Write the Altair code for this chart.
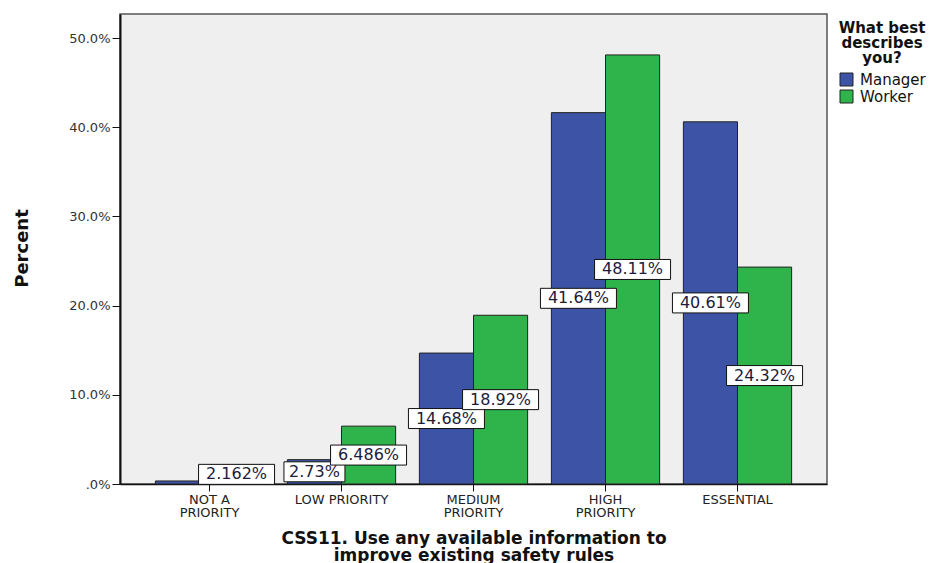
import altair as alt
import pandas as pd

categories = ["NOT A PRIORITY", "LOW PRIORITY", "MEDIUM PRIORITY", "HIGH PRIORITY", "ESSENTIAL"]
groups = ["Manager", "Worker"]
manager_pct = [0.34, 2.73, 14.68, 41.64, 40.61]
worker_pct = [2.162, 6.486, 18.92, 48.11, 24.32]
manager_labels = ["", "2.73%", "14.68%", "41.64%", "40.61%"]
worker_labels = ["2.162%", "6.486%", "18.92%", "48.11%", "24.32%"]
colors = ["#3d54a6", "#2eb44a"]
y_ticks = [0, 10, 20, 30, 40, 50]

rows = []
for i, c in enumerate(categories):
    rows.append(dict(cat=c, grp="Manager", pct=manager_pct[i], label=manager_labels[i]))
    rows.append(dict(cat=c, grp="Worker", pct=worker_pct[i], label=worker_labels[i]))
df = pd.DataFrame(rows)
df["nchar"] = df["label"].str.len()

FONT = "DejaVu Sans"
yscale = alt.Scale(domain=[0, 52.7], nice=False, zero=True)
xscale = alt.Scale(paddingInner=0.18, paddingOuter=0.268)
xo = alt.XOffset("grp:N", sort=groups, scale=alt.Scale(paddingInner=0, paddingOuter=0))

x_axis = alt.Axis(
    title=["CSS11. Use any available information to", "improve existing safety rules"],
    labelAngle=0,
    labelExpr="datum.value == 'LOW PRIORITY' ? datum.value : split(replace(datum.value, ' PRIORITY', '|PRIORITY'), '|')",
    labelFont=FONT, labelFontSize=13, labelLineHeight=13, labelColor="#222",
    labelPadding=2, tickSize=7, tickColor="#111", domainColor="#111", domainWidth=1.5,
    titleFont=FONT, titleFontSize=17, titleFontWeight="bold", titleLineHeight=17,
    titleColor="#111", titleBaseline="alphabetic", titleY=59,
)
y_axis = alt.Axis(
    title="Percent", values=y_ticks,
    labelExpr="datum.value == 0 ? '.0%' : format(datum.value, '.1f') + '%'",
    labelFont=FONT, labelFontSize=13, labelColor="#333", labelPadding=2,
    tickSize=8, tickColor="#111", domainColor="#111", domainWidth=2, grid=False,
    titleFont=FONT, titleFontSize=18, titleFontWeight="bold", titleColor="#111",
    titleX=-98, titleY=234, titleAngle=270, titleBaseline="middle", titleAlign="center",
)

x_enc = alt.X("cat:N", sort=categories, scale=xscale, axis=x_axis)
y_enc = alt.Y("pct:Q", scale=yscale, axis=y_axis)

bars = alt.Chart(df).mark_bar(stroke="#222", strokeWidth=1).encode(
    x=x_enc,
    xOffset=xo,
    y=y_enc,
    color=alt.Color("grp:N", sort=groups, scale=alt.Scale(domain=groups, range=colors),
                    legend=alt.Legend(title=["What best", "describes", "you?"])),
)

path6 = "M-3.8,-1H3.8V1H-3.8Z"
path5 = "M-3.05,-1H3.05V1H-3.05Z"

labelled = alt.Chart(df).transform_filter("datum.label != ''").transform_calculate(
    pct="datum.pct / 2"
)

boxes = labelled.mark_point(
    filled=True, fill="white", stroke="#111", strokeWidth=1, opacity=1
).encode(
    x=x_enc,
    xOffset=xo,
    y=y_enc,
    shape=alt.Shape("nchar:O", scale=alt.Scale(domain=[5, 6], range=[path5, path6]), legend=None),
    size=alt.value(400),
)

texts = labelled.mark_text(
    font=FONT, fontSize=16, color="#1c1c3c", baseline="middle", align="center"
).encode(
    x=x_enc,
    xOffset=xo,
    y=y_enc,
    text="label:N",
)

chart = alt.layer(bars, boxes, texts).properties(
    width=707, height=470,
    autosize=alt.AutoSizeParams(type="none"),
    padding={"left": 112, "top": 6, "right": 113, "bottom": 79},
    background="white",
).configure_view(
    fill="#efefef", stroke="#555", strokeWidth=1.5
).configure_legend(
    orient="none", legendX=719, legendY=7,
    titleFont=FONT, titleFontSize=15, titleFontWeight="bold", titleColor="#111",
    titleAlign="center", titleAnchor="middle", titleLineHeight=15, titlePadding=6,
    labelFont=FONT, labelFontSize=15, labelColor="#111", labelOffset=6,
    symbolType="square", symbolSize=169, symbolStrokeColor="#222", symbolStrokeWidth=1,
    symbolOpacity=1, rowPadding=0,
)

chart.save("out.html", embed_options={"renderer": "svg", "actions": False})
